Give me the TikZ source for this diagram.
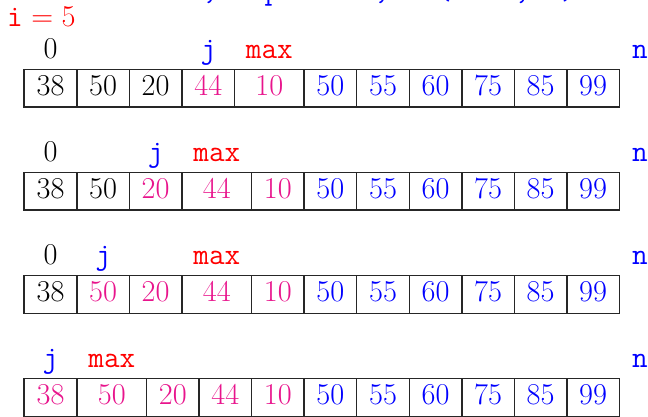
\documentclass[tikz,border=0pt]{standalone}
\definecolor{mypink}{RGB}{232,20,140}
\newcommand\cellrow[3]{%
  \foreach \l/\r/\t/\c [count=\k] in {#3} {%
    \node[cell, text=\c, minimum width={(\r-\l)*1pt}] (#1c\k) at ({(\l+\r)/2}, {#2+18.75}) {\t};
  }}
\begin{document}
\begin{tikzpicture}[x=1pt,y=-1pt,
  every node/.style={font=\fontsize{30.3}{36}\selectfont, inner sep=0pt},
  cell/.style={draw=black!85, line width=1.1pt, minimum height=37.5pt, text height=19.5pt, text depth=5pt},
  lbl/.style={anchor=base, font=\fontsize{30.3}{36}\selectfont\ttfamily},
  num/.style={anchor=base}]
\useasboundingbox (0,0) rectangle (648,417);
\clip (0,0) rectangle (648,417);

% clipped line at the very top
\node[anchor=base west, text=blue, font=\fontsize{30.3}{36}\selectfont\ttfamily] (top) at (202,-0.5)
  {,\phantom{xxx}p\phantom{xxxxxx},\phantom{xxx}(\phantom{xxxx},\phantom{xx})};

\node[anchor=base west, text=red] (ilabel) at (7,27) {\texttt{i}\hspace{0.28em}=\hspace{0.28em}5};

% row 1
\cellrow{a}{69.5}{24/77/38/black, 77/129.3/50/black, 129.3/182/20/black, 182/234.7/44/mypink, 234.7/304/10/mypink, 304/356.7/50/blue, 356.7/409.3/55/blue, 409.3/462/60/blue, 462/514.3/75/blue, 514.3/567/85/blue, 567/619.3/99/blue}
\node[num] (a0) at ([yshift=10.5pt]ac1.north) {0};
\node[lbl, text=blue] (aj) at ([yshift=10.5pt]ac4.north) {j};
\node[lbl, text=red] (amax) at ([yshift=10.5pt]ac5.north) {max};
\node[lbl, text=blue] (an) at ([xshift=20pt,yshift=10.5pt]ac11.north east) {n};

% row 2
\cellrow{b}{172.5}{24/77/38/black, 77/129.3/50/black, 129.3/182/20/mypink, 182/251.7/44/mypink, 251.7/304/10/mypink, 304/356.7/50/blue, 356.7/409.3/55/blue, 409.3/462/60/blue, 462/514.3/75/blue, 514.3/567/85/blue, 567/619.3/99/blue}
\node[num] (b0) at ([yshift=10.5pt]bc1.north) {0};
\node[lbl, text=blue] (bj) at ([yshift=10.5pt]bc3.north) {j};
\node[lbl, text=red] (bmax) at ([yshift=10.5pt]bc4.north) {max};
\node[lbl, text=blue] (bn) at ([xshift=20pt,yshift=10.5pt]bc11.north east) {n};

% row 3
\cellrow{c}{275.7}{24/77/38/black, 77/129.3/50/mypink, 129.3/182/20/mypink, 182/251.7/44/mypink, 251.7/304/10/mypink, 304/356.7/50/blue, 356.7/409.3/55/blue, 409.3/462/60/blue, 462/514.3/75/blue, 514.3/567/85/blue, 567/619.3/99/blue}
\node[num] (c0) at ([yshift=10.5pt]cc1.north) {0};
\node[lbl, text=blue] (cj) at ([yshift=10.5pt]cc2.north) {j};
\node[lbl, text=red] (cmax) at ([yshift=10.5pt]cc4.north) {max};
\node[lbl, text=blue] (cn) at ([xshift=20pt,yshift=10.5pt]cc11.north east) {n};

% row 4
\cellrow{d}{378.7}{24/77/38/mypink, 77/146.7/50/mypink, 146.7/199/20/mypink, 199/251.7/44/mypink, 251.7/304/10/mypink, 304/356.7/50/blue, 356.7/409.3/55/blue, 409.3/462/60/blue, 462/514.3/75/blue, 514.3/567/85/blue, 567/619.3/99/blue}
\node[lbl, text=blue] (dj) at ([yshift=10.5pt]dc1.north) {j};
\node[lbl, text=red] (dmax) at ([yshift=10.5pt]dc2.north) {max};
\node[lbl, text=blue] (dn) at ([xshift=20pt,yshift=10.5pt]dc11.north east) {n};
\end{tikzpicture}
\end{document}
